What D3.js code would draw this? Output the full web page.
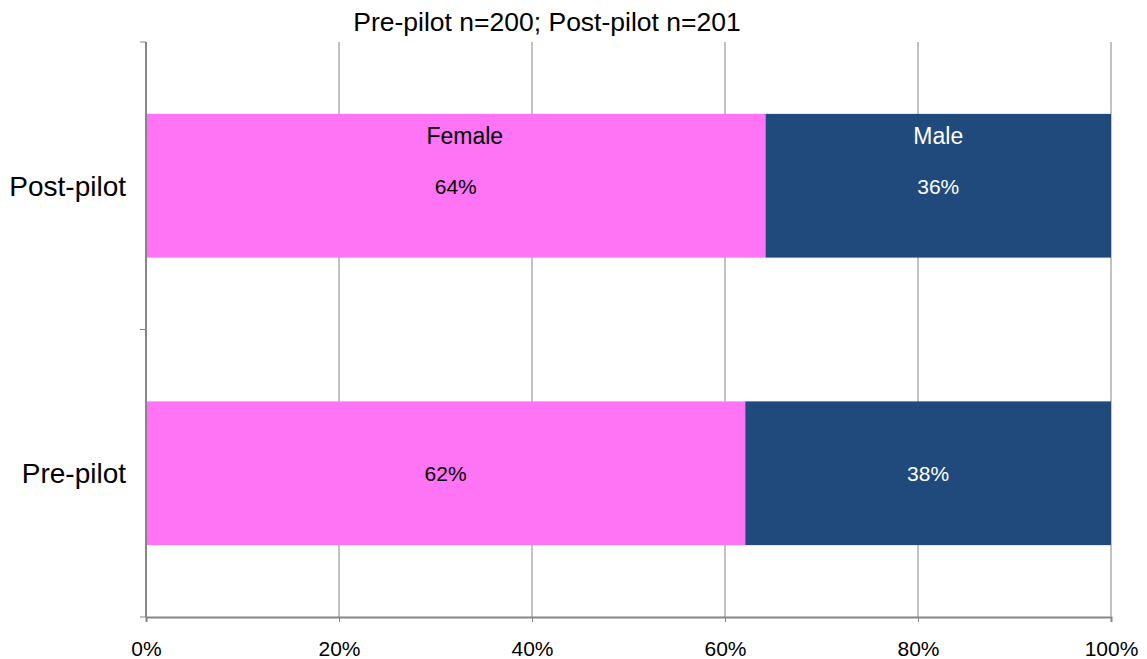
<!DOCTYPE html>
<html><head><meta charset="utf-8">
<script src="https://cdn.jsdelivr.net/npm/d3@7"></script>
<style>body{margin:0;background:#fff}text{font-family:"Liberation Sans",Arial,sans-serif}</style>
</head><body><svg id="c" width="1147" height="659"></svg>
<script>
const categories = ["Post-pilot", "Pre-pilot"];
const femaleValues = [64.2, 62.1];
const maleValues = [35.8, 37.9];
const seriesNames = ["Female", "Male"];
const xTicks = [0, 20, 40, 60, 80, 100];
const title = "Pre-pilot n=200; Post-pilot n=201";

const svg = d3.select("#c");
const L = 146, R = 1111, T = 42, B = 617;
const x = d3.scaleLinear().domain([0, 100]).range([L, R]);
const y = d3.scaleBand().domain(categories).range([T, B]).paddingInner(0.5).paddingOuter(0.25);

svg.append("g").selectAll("line").data(xTicks.slice(1)).join("line")
  .attr("x1", d => x(d)).attr("x2", d => x(d)).attr("y1", T).attr("y2", B)
  .attr("stroke", "#868686").attr("stroke-width", 1);

const data = categories.map((c, i) => ({cat: c, f: femaleValues[i], m: maleValues[i]}));
const colors = {Female: "#FF73F5", Male: "#204A7C"};

const g = svg.append("g");
data.forEach((d, i) => {
  g.append("rect").attr("x", x(0)).attr("y", y(d.cat)).attr("width", x(d.f) - x(0)).attr("height", y.bandwidth()).attr("fill", colors.Female);
  g.append("rect").attr("x", x(d.f)).attr("y", y(d.cat)).attr("width", x(d.f + d.m) - x(d.f)).attr("height", y.bandwidth()).attr("fill", colors.Male);
  const yc = y(d.cat) + y.bandwidth() / 2;
  g.append("text").attr("x", (x(0) + x(d.f)) / 2).attr("y", yc + 8).attr("text-anchor", "middle").attr("font-size", 21).attr("fill", "#000").text(Math.round(d.f) + "%");
  g.append("text").attr("x", (x(d.f) + x(d.f + d.m)) / 2).attr("y", yc + 8).attr("text-anchor", "middle").attr("font-size", 21).attr("fill", "#fff").text(Math.round(d.m) + "%");
  if (i === 0) {
    g.append("text").attr("x", (x(0) + x(d.f)) / 2).attr("dx", 9).attr("y", y(d.cat) + 30).attr("text-anchor", "middle").attr("font-size", 23).attr("fill", "#000").text(seriesNames[0]);
    g.append("text").attr("x", (x(d.f) + x(d.f + d.m)) / 2).attr("y", y(d.cat) + 30).attr("text-anchor", "middle").attr("font-size", 23).attr("fill", "#fff").text(seriesNames[1]);
  }
});

const xa = svg.append("g").attr("transform", `translate(0,${B})`)
  .call(d3.axisBottom(x).tickValues(xTicks).tickFormat(d => d + "%").tickSize(5).tickPadding(19));
xa.select(".domain").attr("stroke", "#868686").attr("stroke-width", 2);
xa.selectAll(".tick line").attr("stroke", "#868686");
xa.selectAll("text").attr("font-size", 21).attr("fill", "#000").attr("font-family", "Liberation Sans, Arial, sans-serif");

svg.append("line").attr("x1", L).attr("x2", L).attr("y1", T).attr("y2", B).attr("stroke", "#868686").attr("stroke-width", 2);
svg.append("g").selectAll("line").data([T, (T + B) / 2, B]).join("line")
  .attr("x1", L - 6).attr("x2", L).attr("y1", d => d).attr("y2", d => d).attr("stroke", "#868686").attr("stroke-width", 1);
svg.append("g").selectAll("text").data(categories).join("text")
  .attr("x", 126).attr("y", d => y(d) + y.bandwidth() / 2 + 10).attr("text-anchor", "end")
  .attr("font-size", 28).attr("fill", "#000").text(d => d);

svg.append("text").attr("x", 547).attr("y", 31).attr("text-anchor", "middle").attr("font-size", 26.5).attr("fill", "#000").text(title);
</script></body></html>
